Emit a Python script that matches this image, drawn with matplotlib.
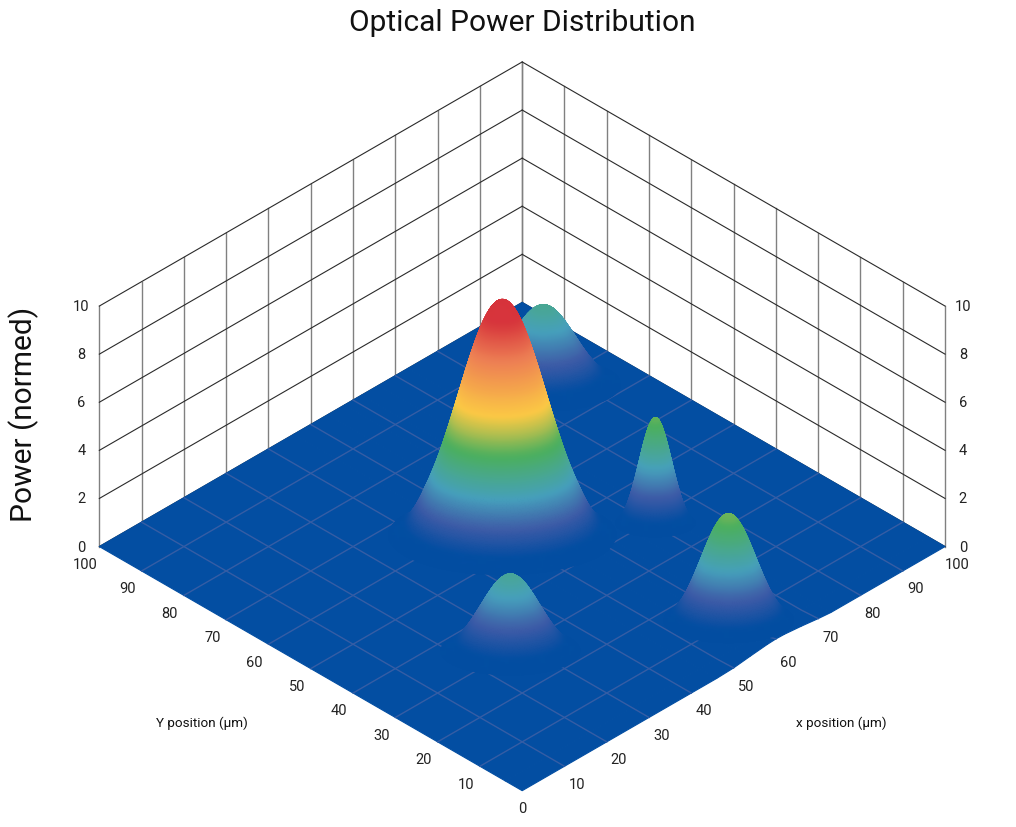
import numpy as np
import matplotlib
matplotlib.use("Agg")
import matplotlib.pyplot as plt
from matplotlib.colors import LinearSegmentedColormap, Normalize

plt.rcParams["font.family"] = ["Roboto", "DejaVu Sans"]

# floor ticks and wall ticks
pos_ticks = [0, 10, 20, 30, 40, 50, 60, 70, 80, 90, 100]
z_ticks = [0, 2, 4, 6, 8, 10]

# front edge of the floor (y=0) lifts a little near x=60
edge_x = [0, 10, 20, 30, 40, 46, 50, 54, 58, 60, 62, 66, 70, 73, 80, 90, 100]
edge_z = [0, 0, 0, 0, 0, 0, 0.03, 0.12, 0.2, 0.22, 0.21, 0.14, 0.05, 0, 0, 0, 0]
floor_y = [0, 4, 100]

# peaks, back to front: centre, ring spacing, height at each ring
back_xy = (84.65, 79.65)
back_step = 0.46
back_z = [3.50, 3.49, 3.45, 3.39, 3.31, 3.20, 3.08, 2.94, 2.79, 2.62, 2.45, 2.28, 2.10, 1.92,
          1.74, 1.57, 1.41, 1.25, 1.11, 0.97, 0.84, 0.73, 0.63, 0.53, 0.45, 0.38, 0.32, 0.26, 0.22]

narrow_xy = (69.45, 37.95)
narrow_step = 0.2
narrow_z = [4.60, 4.59, 4.55, 4.49, 4.40, 4.30, 4.17, 4.02, 3.86, 3.68, 3.50, 3.30, 3.10, 2.89,
            2.69, 2.48, 2.28, 2.08, 1.89, 1.71, 1.54, 1.37, 1.22, 1.08, 0.95, 0.83, 0.72, 0.62,
            0.54, 0.46, 0.39, 0.33, 0.28, 0.23]

big_xy = (48.9, 53.6)
big_step = 0.25
big_z = [10.00, 9.99, 9.98, 9.95, 9.91, 9.86, 9.79, 9.72, 9.64, 9.54, 9.44, 9.32, 9.20, 9.07,
         8.93, 8.78, 8.62, 8.46, 8.29, 8.11, 7.93, 7.75, 7.56, 7.36, 7.17, 6.97, 6.76, 6.56,
         6.35, 6.15, 5.94, 5.73, 5.53, 5.32, 5.12, 4.92, 4.72, 4.53, 4.34, 4.15, 3.96, 3.78,
         3.60, 3.43, 3.26, 3.10, 2.94, 2.79, 2.64, 2.49, 2.35, 2.22, 2.09, 1.95, 1.81, 1.68,
         1.56, 1.44, 1.33, 1.22, 1.12, 1.03, 0.94, 0.86, 0.78, 0.71, 0.64, 0.58, 0.52, 0.47,
         0.42, 0.38, 0.34, 0.30, 0.27, 0.24, 0.22]

right_xy = (57.9, 9.1)
right_step = 0.3
right_z = [4.70, 4.69, 4.66, 4.61, 4.54, 4.45, 4.35, 4.23, 4.10, 3.95, 3.79, 3.63, 3.45, 3.27,
           3.09, 2.90, 2.71, 2.53, 2.35, 2.17, 1.99, 1.83, 1.67, 1.51, 1.37, 1.23, 1.10, 0.99,
           0.88, 0.78, 0.68, 0.60, 0.52, 0.46, 0.39, 0.34, 0.29]

front_xy = (26.1, 28.9)
front_step = 0.4
front_z = [3.40, 3.39, 3.36, 3.30, 3.23, 3.14, 3.03, 2.91, 2.77, 2.62, 2.47, 2.31, 2.14,
           1.98, 1.82, 1.66, 1.50, 1.35, 1.21, 1.07, 0.95, 0.83, 0.72, 0.63, 0.54, 0.46,
           0.39, 0.33, 0.28, 0.23]

peaks = [(back_xy, back_step, back_z), (narrow_xy, narrow_step, narrow_z), (big_xy, big_step, big_z),
         (right_xy, right_step, right_z), (front_xy, front_step, front_z)]

# rings are shorter along the view direction than across it
ring_depth = 0.6

# height -> colour stops
level_z = [0, 0.7, 1.7, 2.8, 4.4, 5.9, 8.0, 9.4, 10]
level_c = ["#034ea2", "#034ea2", "#3f5ca8", "#47a1bd", "#4cb05f", "#fdcb45", "#ee8055", "#d7343c", "#d7343c"]

FLOOR = "#034ea2"
FLOOR_GRID = "#355da5"

cmap = LinearSegmentedColormap.from_list("power", list(zip(np.array(level_z) / level_z[-1], level_c)))
norm = Normalize(level_z[0], level_z[-1])


def soften(img, dpi):
    # evens out the ring colours, keeps the outline sharp
    kernel = np.array([1, 3, 6, 8, 6, 3, 1], dtype=float)
    kernel /= kernel.sum()
    a = img[..., 3:]
    rgb = img[..., :3] * a
    weight = a.copy()
    for axis in (0, 1):
        rgb = np.apply_along_axis(np.convolve, axis, rgb, kernel, mode="same")
        weight = np.apply_along_axis(np.convolve, axis, weight, kernel, mode="same")
    out = img.copy()
    out[..., :3] = np.clip(rgb / np.maximum(weight, 1e-3), 0, 1)
    return out, 0, 0


fig = plt.figure(figsize=(10.16, 8.28), dpi=100)
ax = fig.add_axes([3 / 1016, -24.5 / 828, 1, 1], projection="3d", proj_type="ortho", computed_zorder=False)
ax.view_init(elev=35.26, azim=-135)
ax.set_box_aspect((1, 1, 0.4925), zoom=1.05)
ax.set_xlim(0, 100, view_margin=0)
ax.set_ylim(0, 100, view_margin=0)
ax.set_zlim(0, 10, view_margin=0)
ax.set_axis_off()

# back walls
for t in pos_ticks:
    ax.plot([t, t], [100, 100], [0, 10], color="#808080", lw=1.0, zorder=1, clip_on=False)
    ax.plot([100, 100], [t, t], [0, 10], color="#808080", lw=1.0, zorder=1, clip_on=False)
for z in z_ticks:
    ax.plot([0, 100], [100, 100], [z, z], color="#2a2a2a", lw=0.8, zorder=1, clip_on=False)
    ax.plot([100, 100], [0, 100], [z, z], color="#2a2a2a", lw=0.8, zorder=1, clip_on=False)

# floor
fx, fy = np.meshgrid(edge_x, floor_y)
fz = np.zeros_like(fx, dtype=float)
fz[0] = edge_z
floor = ax.plot_surface(fx, fy, fz, color=FLOOR, edgecolor=FLOOR, shade=False, linewidth=0.8,
                        rstride=1, cstride=1, zorder=2)
floor.set_clip_on(False)

for t in pos_ticks[1:-1]:
    ax.plot([t, t, t], floor_y, [edge_z[edge_x.index(t)], 0, 0], color=FLOOR_GRID, lw=1.0, zorder=3, clip_on=False)
    ax.plot([0, 100], [t, t], [0, 0], color=FLOOR_GRID, lw=1.0, zorder=3, clip_on=False)

# peaks as rings of read heights
theta = np.radians(np.arange(0, 361, 3))
for i, (xy, step, heights) in enumerate(peaks):
    radii = step * np.arange(len(heights))
    rr, tt = np.meshgrid(radii, theta)
    zz = np.tile(heights, (len(theta), 1))
    across = rr * np.cos(tt)
    along = ring_depth * rr * np.sin(tt)
    px = xy[0] + (across + along) / np.sqrt(2)
    py = xy[1] + (along - across) / np.sqrt(2)
    surf = ax.plot_surface(px, py, zz, facecolors=cmap(norm(zz)), shade=False, linewidth=0.8,
                           antialiased=True, rstride=1, cstride=1, zorder=4 + i)
    surf.set_agg_filter(soften)
    surf.set_clip_on(False)

# tick labels
for t in pos_ticks[1:]:
    ax.text(t + 1.45, -1.45, -0.72, str(t), fontsize=10.5, ha="center", va="center", color="#222222", zorder=10)
    ax.text(-1.65, t + 1.65, -0.72, str(t), fontsize=10.5, ha="center", va="center", color="#222222", zorder=10)
ax.text(0, 0, -0.7, "0", fontsize=10.5, ha="center", va="center", color="#222222", zorder=10)
for z in z_ticks:
    ax.text(-2.1, 102.1, z, str(z), fontsize=10.5, ha="center", va="center", color="#222222", zorder=10)
    ax.text(102.1, -2.1, z, str(z), fontsize=10.5, ha="center", va="center", color="#222222", zorder=10)

fig.text(522 / 1016, 1 - 23 / 828, "Optical Power Distribution", fontsize=21.5, ha="center", va="center", color="#111111")
fig.text(24 / 1016, 1 - 414 / 828, "Power (normed)", fontsize=21.5, rotation=90, ha="center", va="center", color="#111111")
fig.text(202 / 1016, 1 - 723 / 828, "Y position (µm)", fontsize=9.7, ha="center", va="center", color="#111111")
fig.text(841 / 1016, 1 - 723 / 828, "x position (µm)", fontsize=9.7, ha="center", va="center", color="#111111")

fig.savefig("out.png", dpi=100)
